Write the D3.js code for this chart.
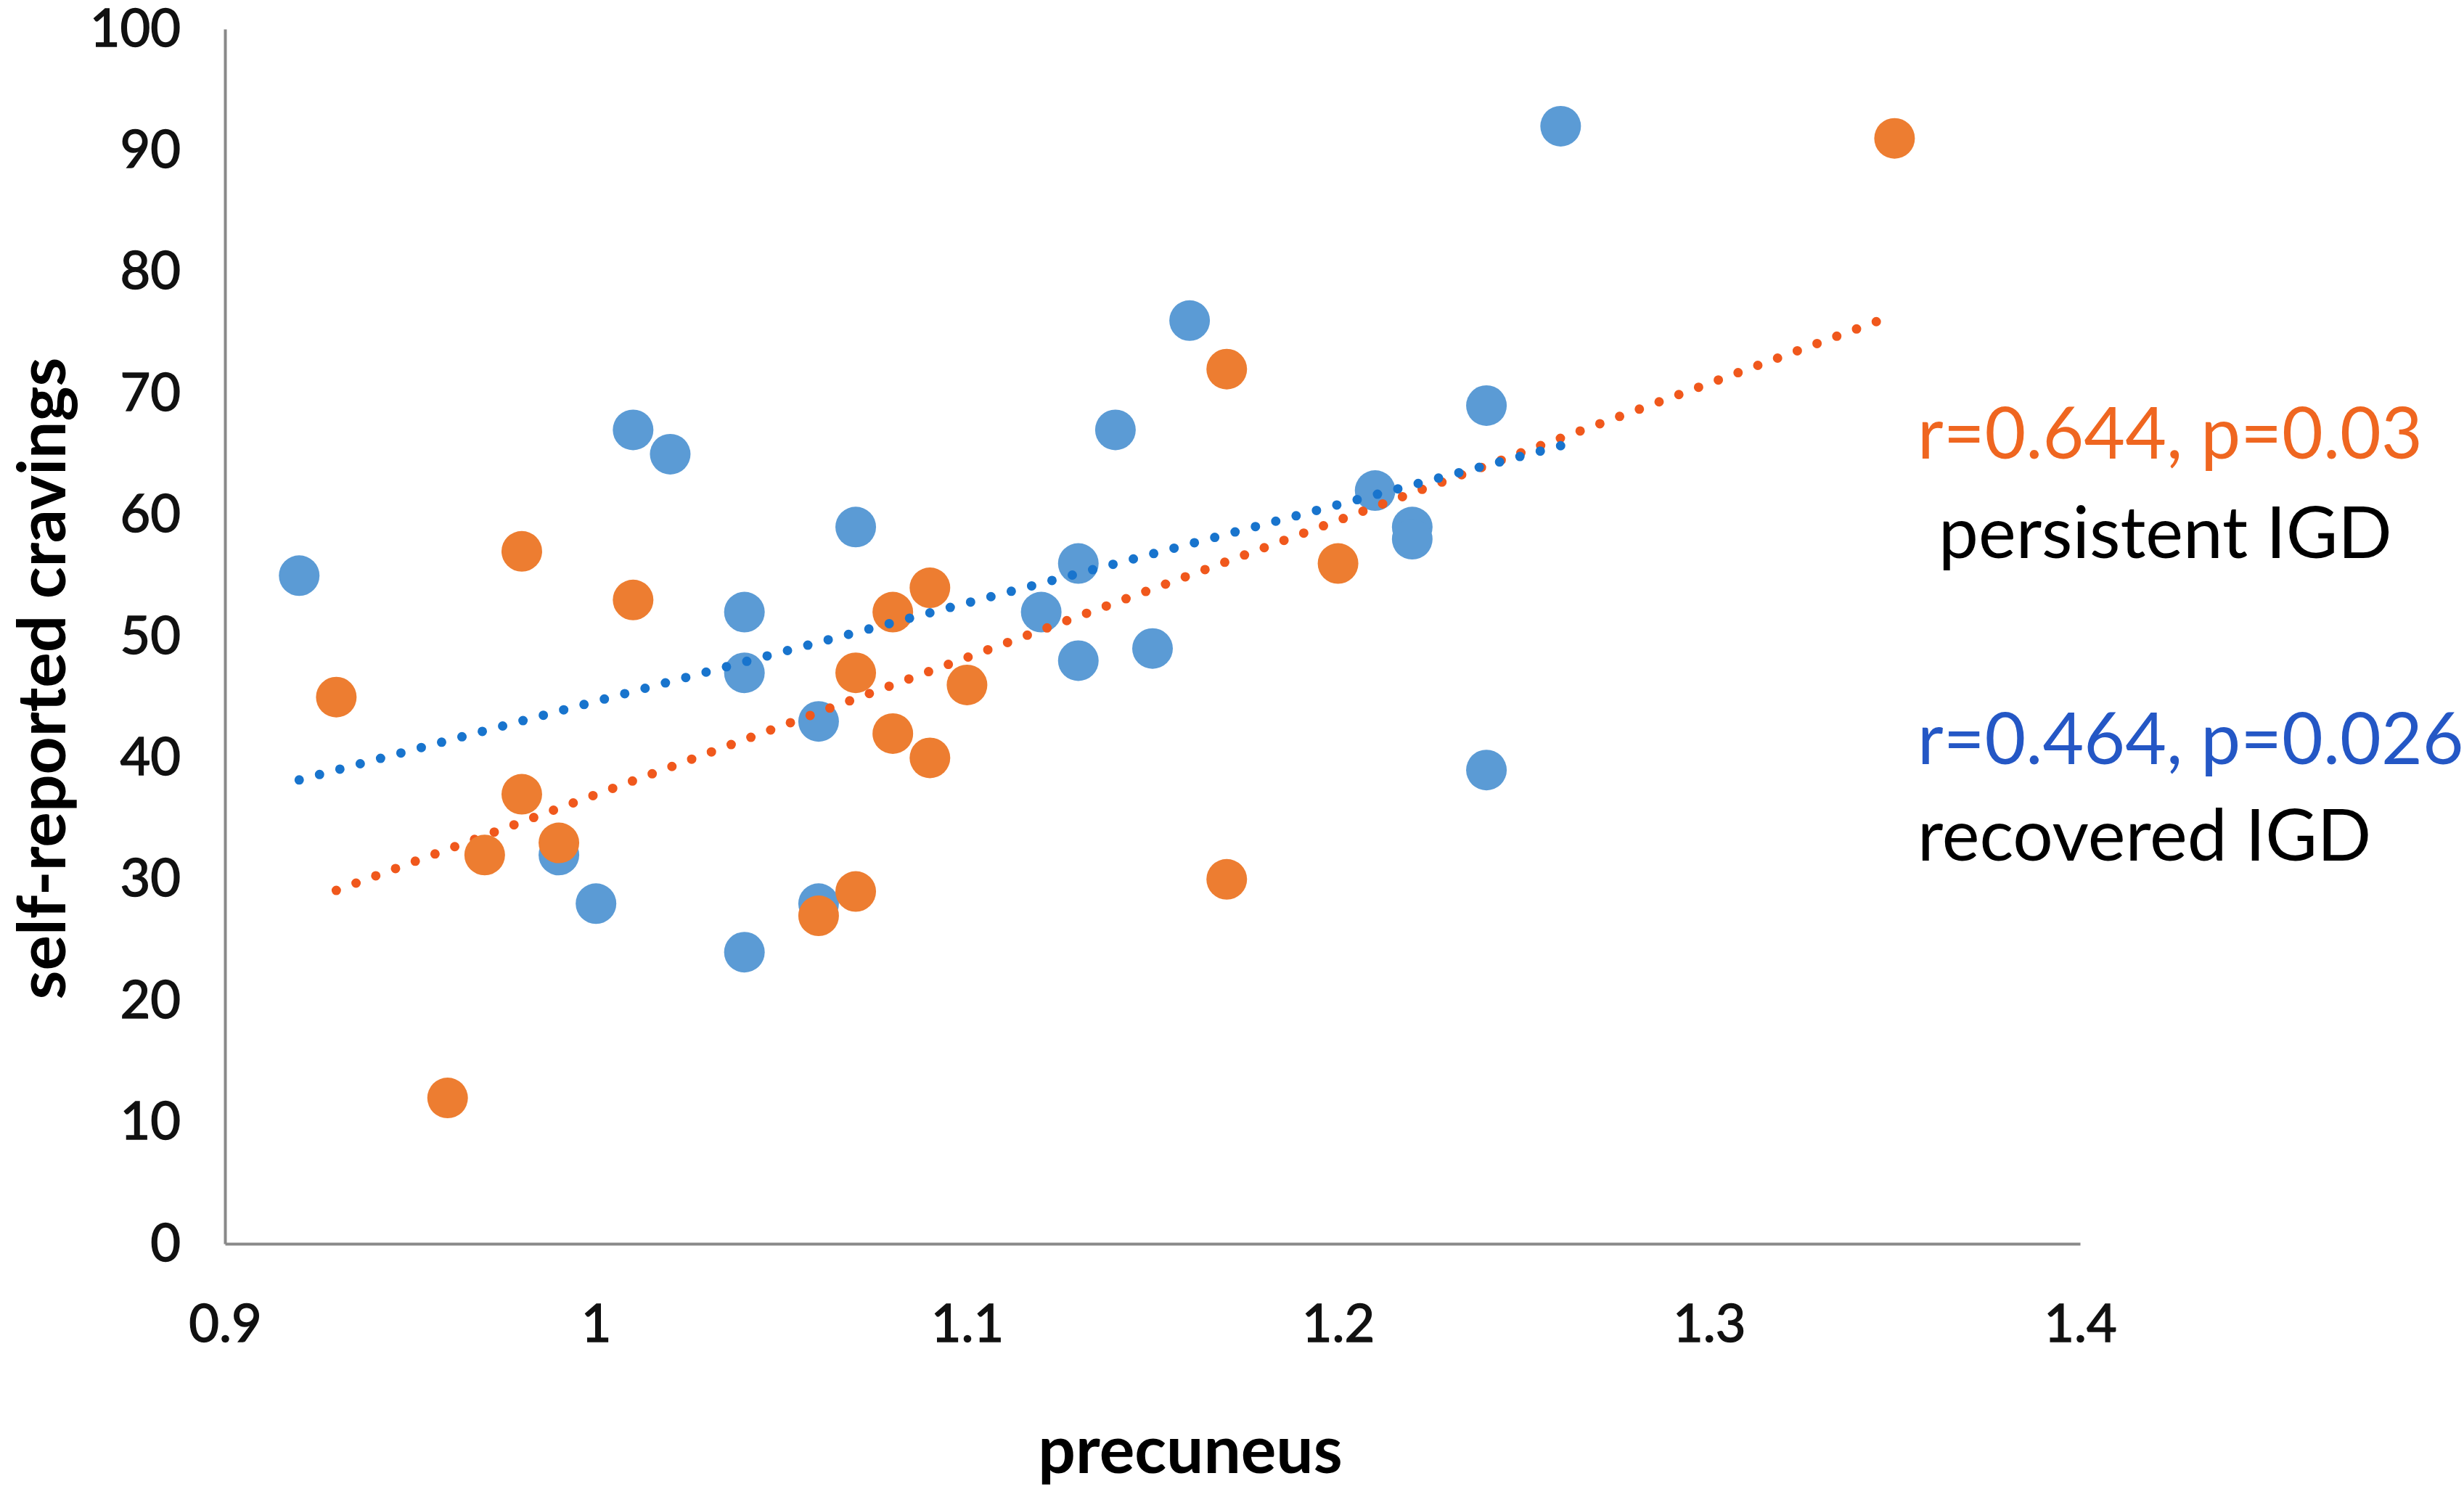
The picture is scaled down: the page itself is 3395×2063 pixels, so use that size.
<!DOCTYPE html>
<html lang="en">
<head>
    <meta charset="UTF-8">
    <title>Precuneus vs self-reported cravings</title>
    <script src="https://d3js.org/d3.v7.min.js"></script>
    <style>
        body { margin: 0; background: #fff; }
        svg { display: block; font-family: Lato, "Open Sans", sans-serif; }
        .tick text { font-size: 72px; fill: #111; stroke: #111; stroke-width: 1.5px; }
        .axis path { stroke: #898989; stroke-width: 4; }
        .title { font-size: 91px; font-weight: bold; fill: #000; }
        .note { font-size: 98px; }
    </style>
</head>
<body>
    <svg width="3395" height="2063"></svg>

    <script>
        // recovered IGD (blue)
        const recoveredX = [0.92, 1.01, 1.02, 1.04, 1.04, 1.07, 1.06, 0.99, 1.00, 1.04, 1.06, 1.12,
                            1.13, 1.13, 1.14, 1.15, 1.16, 1.21, 1.22, 1.22, 1.24, 1.24, 1.26];
        const recoveredY = [55, 67, 65, 52, 47, 59, 43, 32, 28, 24, 28, 52,
                            56, 48, 67, 49, 76, 62, 59, 58, 69, 39, 92];

        // persistent IGD (orange)
        const persistentX = [0.93, 0.96, 0.97, 0.98, 0.98, 0.99, 1.01, 1.06, 1.07, 1.07,
                             1.08, 1.08, 1.09, 1.09, 1.10, 1.17, 1.17, 1.20, 1.35];
        const persistentY = [45, 12, 32, 57, 37, 33, 53, 27, 29, 47,
                             52, 42, 54, 40, 46, 72, 30, 56, 91];

        const xTicks = [0.9, 1, 1.1, 1.2, 1.3, 1.4];
        const yTicks = [0, 10, 20, 30, 40, 50, 60, 70, 80, 90, 100];

        const svg = d3.select("svg");
        const plot = {left: 310, right: 2866, top: 40, bottom: 1714};

        const x = d3.scaleLinear().domain([0.9, 1.4]).range([plot.left, plot.right]);
        const y = d3.scaleLinear().domain([0, 100]).range([plot.bottom, plot.top]);

        svg.append("g")
            .attr("class", "axis")
            .attr("transform", `translate(0,${plot.bottom})`)
            .call(d3.axisBottom(x).tickValues(xTicks).tickFormat(d => String(d))
                .tickSize(0).tickPadding(84));

        svg.append("g")
            .attr("class", "axis")
            .attr("transform", `translate(${plot.left},0)`)
            .call(d3.axisLeft(y).tickValues(yTicks).tickSize(0).tickPadding(61));

        // let the page font apply to the tick labels
        svg.selectAll(".axis").attr("font-family", null).attr("font-size", null);

        // least squares line over the x range of a series
        function trend(xs, ys) {
            const mx = d3.mean(xs), my = d3.mean(ys);
            const sxy = d3.sum(xs, (v, i) => (v - mx) * (ys[i] - my));
            const sxx = d3.sum(xs, v => (v - mx) * (v - mx));
            const b = sxy / sxx, a = my - b * mx;
            const [x0, x1] = d3.extent(xs);
            return [[x0, a + b * x0], [x1, a + b * x1]];
        }

        const line = d3.line().x(d => x(d[0])).y(d => y(d[1]));

        function drawPoints(xs, ys, color) {
            svg.append("g").selectAll("circle")
                .data(xs.map((v, i) => [v, ys[i]]))
                .join("circle")
                .attr("cx", d => x(d[0]))
                .attr("cy", d => y(d[1]))
                .attr("r", 28)
                .attr("fill", color);
        }

        function drawTrend(xs, ys, color) {
            svg.append("path")
                .attr("d", line(trend(xs, ys)))
                .attr("fill", "none")
                .attr("stroke", color)
                .attr("stroke-width", 13)
                .attr("stroke-linecap", "round")
                .attr("stroke-dasharray", "0 29");
        }

        drawPoints(recoveredX, recoveredY, "#5b9bd5");
        drawTrend(persistentX, persistentY, "#f0581c");
        drawPoints(persistentX, persistentY, "#ed7d31");
        drawTrend(recoveredX, recoveredY, "#1874cd");

        // axis titles
        svg.append("text")
            .attr("class", "title")
            .attr("x", 1640)
            .attr("y", 2030)
            .attr("text-anchor", "middle")
            .text("precuneus");

        svg.append("text")
            .attr("class", "title")
            .attr("transform", "translate(90,935) rotate(-90)")
            .attr("text-anchor", "middle")
            .text("self-reported cravings");

        // correlation notes
        const notes = [
            {text: "r=0.644, p=0.03", x: 2642, y: 632, color: "#ef6620"},
            {text: "persistent IGD", x: 2671, y: 769, color: "#000"},
            {text: "r=0.464, p=0.026", x: 2642, y: 1053, color: "#2457c5"},
            {text: "recovered IGD", x: 2642, y: 1186, color: "#000"}
        ];

        svg.selectAll(".note")
            .data(notes)
            .join("text")
            .attr("class", "note")
            .attr("x", d => d.x)
            .attr("y", d => d.y)
            .attr("fill", d => d.color)
            .text(d => d.text);
    </script>
</body>
</html>
